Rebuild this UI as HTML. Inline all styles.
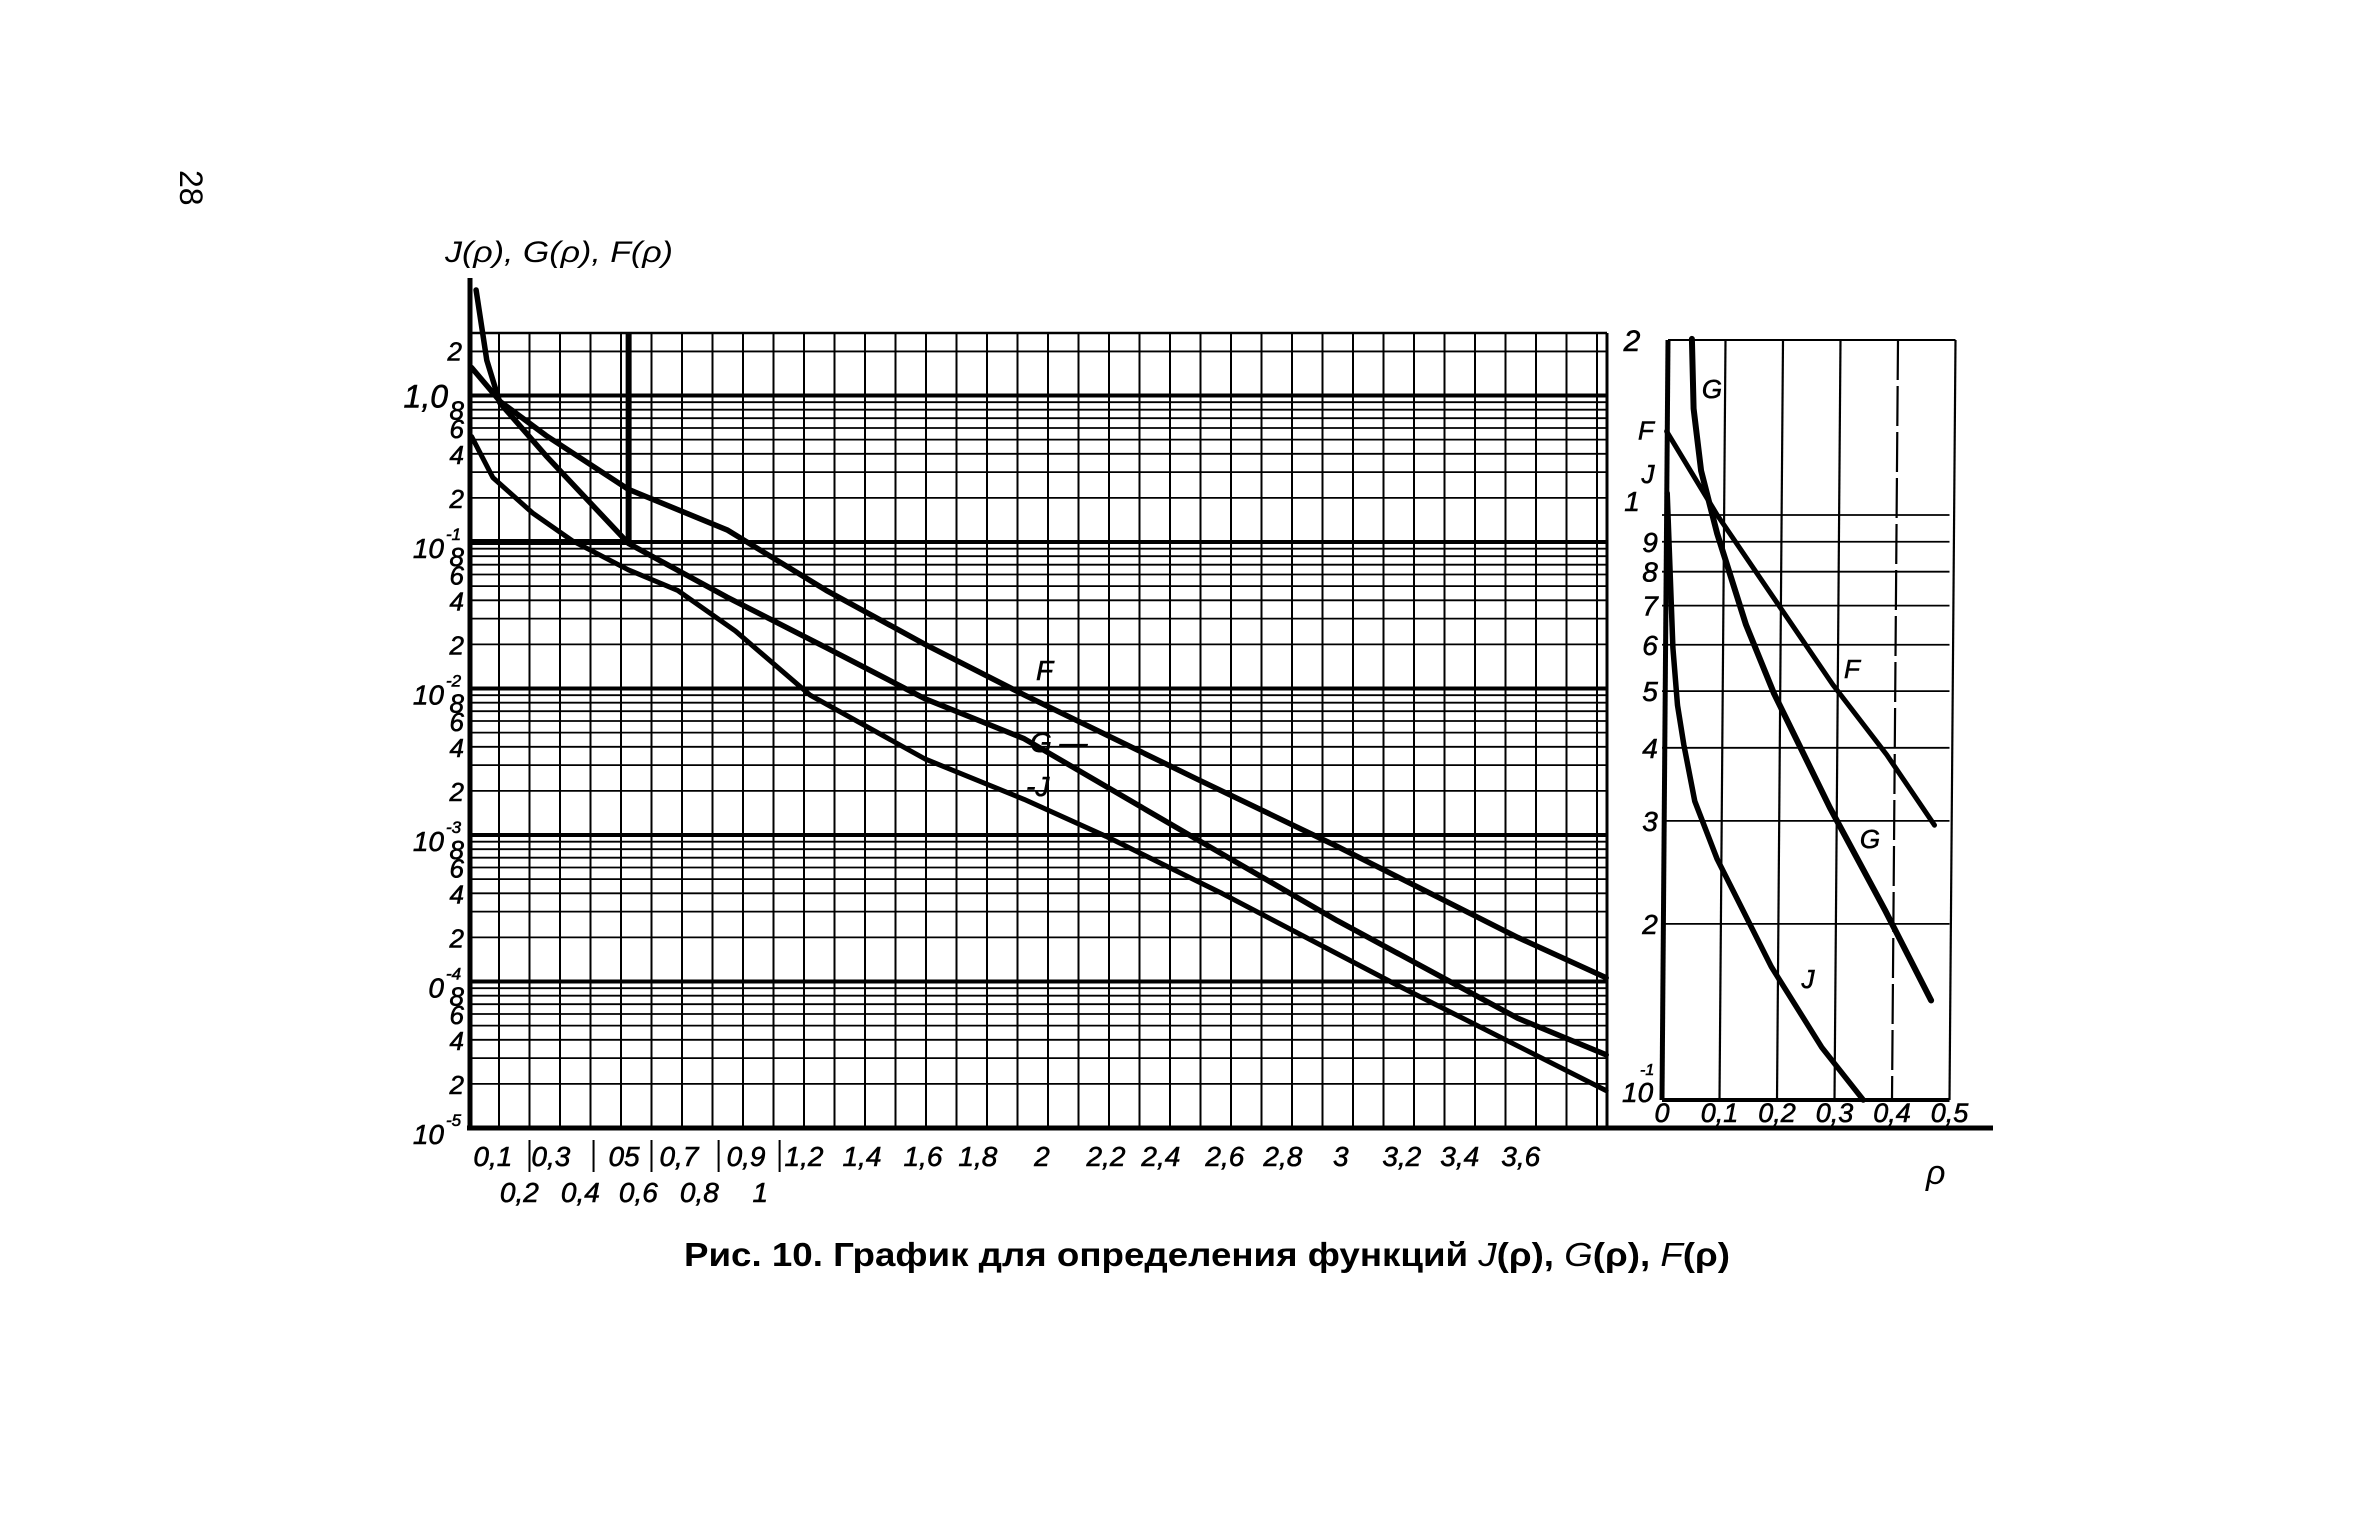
<!DOCTYPE html>
<html><head><meta charset="utf-8"><style>
html,body{margin:0;padding:0;background:#fff}
svg{display:block}
text{font-family:"Liberation Sans","DejaVu Sans",sans-serif;font-style:italic;fill:#000}
.cap{font-family:"Liberation Sans",sans-serif;font-style:normal;font-weight:bold}
</style></head><body>
<svg id="chart" width="2362" height="1536" viewBox="0 0 2362 1536" xmlns="http://www.w3.org/2000/svg">
<rect width="2362" height="1536" fill="#fff"/>
<g id="grid"></g>
<g id="inset"></g>
<g id="curves"></g>
<g id="labels"></g>
<text x="0" y="0" font-size="32" transform="translate(180,170) rotate(90)" style="font-style:normal">28</text>
<text x="445" y="262" font-size="30" textLength="228" lengthAdjust="spacingAndGlyphs">J(ρ), G(ρ), F(ρ)</text>
<text class="cap" x="684" y="1266" font-size="33" textLength="1046" lengthAdjust="spacingAndGlyphs">Рис. 10. График для определения функций <tspan font-style="italic" font-weight="normal">J</tspan>(ρ), <tspan font-style="italic" font-weight="normal">G</tspan>(ρ), <tspan font-style="italic" font-weight="normal">F</tspan>(ρ)</text>
<text x="1926" y="1184" font-size="34">ρ</text>
</svg>
<script>
// ---- main chart data ----
const fRho = [0.11,0.205,0.354,0.624,0.948,1.273,1.597,1.922,2.49,2.949,3.54,3.83];
const fVal = [1.55,0.906,0.533,0.229,0.121,0.0467,0.02,0.00904,0.0024,0.000834,0.0002,0.000106];
const gRho = [0.125,0.16,0.203,0.354,0.624,0.948,1.273,1.597,1.922,2.49,2.949,3.54,3.83];
const gVal = [5.25,1.74,0.89,0.388,0.098,0.042,0.019,0.0085,0.00454,0.000927,0.00026,0.0000562,0.0000316];
const jRho = [0.11,0.18,0.31,0.44,0.624,0.786,0.975,1.219,1.597,1.922,2.19,2.57,3.14,3.83];
const jVal = [0.525,0.275,0.158,0.102,0.0646,0.0467,0.0247,0.00904,0.0033,0.00175,0.00098,0.0004,0.0000955,0.000018];
const xTickLabels1 = ["0,1","0,3","05","0,7","0,9","1,2","1,4","1,6","1,8","2","2,2","2,4","2,6","2,8","3","3,2","3,4","3,6"];
const xTickAt1 = [0.18,0.37,0.61,0.79,1.01,1.2,1.39,1.59,1.77,1.98,2.19,2.37,2.58,2.77,2.96,3.16,3.35,3.55];
const xTickLabels2 = ["0,2","0,4","0,6","0,8","1"];
const xTickAt2 = [0.28,0.48,0.67,0.87,1.07];
const decadeExps = [0,-1,-2,-3,-4,-5];
const decadeLabels = ["1,0","10","10","10","0","10"];
const decadeSups = ["","-1","-2","-3","-4","-5"];
const mantissaLabels = [8,6,4,2];
// ---- inset data ----
const fInRho = [0.008,0.096,0.297,0.391,0.474];
const fInVal = [1.39,1.0,0.513,0.389,0.295];
const gInRho = [0.052,0.055,0.068,0.096,0.146,0.195,0.292,0.388,0.468];
const gInVal = [2.0,1.52,1.19,0.929,0.649,0.495,0.316,0.211,0.148];
const jInRho = [0.009,0.019,0.027,0.038,0.057,0.096,0.19,0.278,0.35];
const jInVal = [1.09,0.593,0.473,0.405,0.324,0.258,0.169,0.123,0.1];
const inYTicks = [1,0.9,0.8,0.7,0.6,0.5,0.4,0.3,0.2];
const inYLabels = ["1","9","8","7","6","5","4","3","2"];
const inXTicks = [0,0.1,0.2,0.3,0.4,0.5];
const inXLabels = ["0","0,1","0,2","0,3","0,4","0,5"];

const NS="http://www.w3.org/2000/svg";
const mx = r => 438 + 305*r;
const my = v => 395.5 - 146.5*Math.log10(v);
const ix = r => 1662 + 575*r;
const iy = v => 515 - 585*Math.log10(v);
const L=470,R=1607,T=333,B=1128;

function mk(parent,tag,attrs){const e=document.createElementNS(NS,tag);for(const k in attrs)e.setAttribute(k,attrs[k]);parent.appendChild(e);return e;}

const grid=document.getElementById('grid');
for(let i=1;i<=38;i++){
  const x=mx(i/10); if(x>R) break;
  const l=mk(grid,'line',{x1:x,y1:T,x2:x,y2:B,stroke:'#000','stroke-width':2});
  
  
}
for(let d=0;d>=-5;d--){
  for(let m=1;m<=9;m++){
    const v=m*Math.pow(10,d); const y=my(v);
    if(y<T-1||y>B+1) continue;
    const l=mk(grid,'line',{x1:L,y1:y,x2:R,y2:y,stroke:'#000','stroke-width':m===1?4:1.8});
    
    
  }
}
{const y=my(2); const l=mk(grid,'line',{x1:L,y1:y,x2:R,y2:y,stroke:'#000','stroke-width':1.8});  }
{const l=mk(grid,'line',{x1:L,y1:T,x2:R,y2:T,stroke:'#000','stroke-width':2.5});  }
{const l=mk(grid,'line',{x1:R,y1:T,x2:R,y2:B,stroke:'#000','stroke-width':3});  }
{const l=mk(grid,'line',{x1:L,y1:278,x2:L,y2:B+2,stroke:'#000','stroke-width':5});  }
{const l=mk(grid,'line',{x1:L-3,y1:B,x2:1993,y2:B,stroke:'#000','stroke-width':5});  }
{const p=mk(grid,'path',{d:`M${L},${my(0.1)} H${mx(0.625)} V${T}`,fill:'none',stroke:'#000','stroke-width':6});  }

const labels=document.getElementById('labels');
function txt(x,y,s,size,anchor,name){const t=mk(labels,'text',{x:x,y:y,'font-size':size,'text-anchor':anchor||'start','stroke':'#000','stroke-width':0.6});t.textContent=s;return t;}
txt(462,my(2)+9,"2",26,'end','y-tick-label');
decadeExps.forEach((e,i)=>{
  const y=my(Math.pow(10,e));
  if(e===0){ txt(448,y+12,"1,0",32,'end','y-tick-label'); }
  else { txt(444,y+16,decadeLabels[i],28,'end','y-tick-label'); txt(446,y-2,decadeSups[i],17,'start','y-tick-exponent'); }
  if(e>-5) mantissaLabels.forEach(m=>{ txt(464,my(m*Math.pow(10,e-1))+10,String(m),26,'end','y-tick-label'); });
});
xTickLabels1.forEach((s,i)=>{ txt(mx(xTickAt1[i]),1166,s,28,'middle','x-tick-label'); });
xTickLabels2.forEach((s,i)=>{ txt(mx(xTickAt2[i])-4,1202,s,28,'middle','x-tick-label'); });
[0.3,0.51,0.7,0.92,1.12].forEach(r=>{const l=mk(labels,'line',{x1:mx(r),y1:1140,x2:mx(r),y2:1172,stroke:'#000','stroke-width':2});  });

const curves=document.getElementById('curves');
function curve(rs,vs,fx,fy,w,name){
  const d=rs.map((r,i)=>(i?'L':'M')+fx(r).toFixed(1)+','+fy(vs[i]).toFixed(1)).join(' ');
  const p=mk(curves,'path',{d:d,fill:'none',stroke:'#000','stroke-width':w,'stroke-linejoin':'round','stroke-linecap':'round'});
  
  
}
curve(fRho,fVal,mx,my,5.5,'curve-f');
curve(gRho,gVal,mx,my,5.5,'curve-g');
curve(jRho,jVal,mx,my,5,'curve-j');
txt(1036,680,"F",28,'start','curve-label-f');
txt(1030,752,"G —",28,'start','curve-label-g');
txt(1026,796,"-J",28,'start','curve-label-j');

const inset=document.getElementById('inset');
const IT=340, IB=1100;
inXTicks.forEach((r,i)=>{
  const l=mk(inset,'line',{x1:ix(r)+6,y1:IT,x2:ix(r),y2:IB,stroke:'#000','stroke-width':i===0?5:2.2,'stroke-dasharray':r===0.4?'40 6':'none'});
  
  
  txt(ix(r),1122,inXLabels[i],27,'middle','inset-x-tick-label');
});
inYTicks.forEach((v,i)=>{
  const l=mk(inset,'line',{x1:ix(0),y1:iy(v),x2:ix(0.5),y2:iy(v),stroke:'#000','stroke-width':1.8});
  
  
  txt(i===0?1632:1650,iy(v)+(i===0?-4:10),inYLabels[i],28,'middle','inset-y-tick-label');
});
{const l=mk(inset,'line',{x1:ix(0)+6,y1:IT,x2:ix(0.5)+6,y2:IT,stroke:'#000','stroke-width':2});  }
{const l=mk(inset,'line',{x1:ix(0),y1:IB,x2:ix(0.5),y2:IB,stroke:'#000','stroke-width':4});  }
txt(1632,iy(2)+12,"2",30,'middle','inset-y-tick-label');
txt(1622,1102,"10",28,'start','inset-y-tick-label');
txt(1640,1075,"-1",16,'start','inset-y-tick-exponent');
txt(1646,iy(1.39)+8,"F",26,'middle','inset-label-f');
txt(1648,iy(1.09)-10,"J",26,'middle','inset-label-j');
curve(fInRho,fInVal,ix,iy,5,'inset-curve-f');
curve(gInRho,gInVal,ix,iy,6,'inset-curve-g');
curve(jInRho,jInVal,ix,iy,5.5,'inset-curve-j');
txt(1712,398,"G",26,'middle','inset-curve-label-g');
txt(1852,678,"F",26,'middle','inset-curve-label-f');
txt(1870,848,"G",26,'middle','inset-curve-label-g2');
txt(1808,988,"J",26,'middle','inset-curve-label-j');
</script>
</body></html>
